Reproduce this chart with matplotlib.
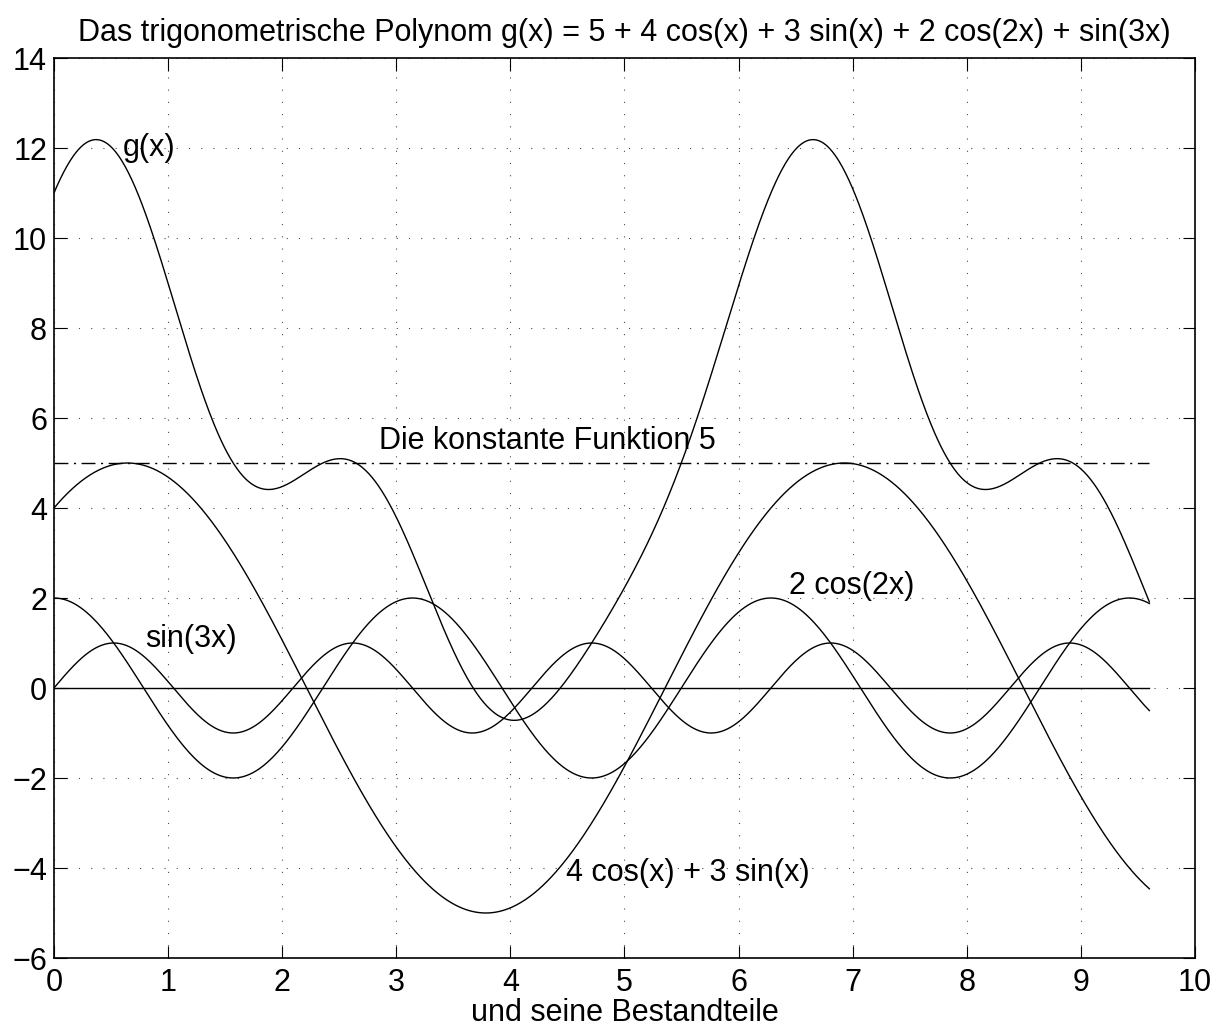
import numpy as np
import matplotlib.pyplot as plt

plt.rcParams['font.family'] = ['Liberation Sans', 'DejaVu Sans']

# coefficients of g(x) = c0 + a1 cos(x) + b1 sin(x) + a2 cos(2x) + b3 sin(3x)
c0 = 5
a1 = 4
b1 = 3
a2 = 2
b3 = 1
x_end = 9.6

x = np.linspace(0, x_end, 1000)
part1 = a1 * np.cos(x) + b1 * np.sin(x)
part2 = a2 * np.cos(2 * x)
part3 = b3 * np.sin(3 * x)
g = c0 + part1 + part2 + part3

fig = plt.figure(figsize=(12.21, 10.34), dpi=100)
ax = fig.add_axes([0.0442, 0.0735, 0.9345, 0.8704])

lw = 1.0
ax.plot(x, g, color='black', lw=lw)
ax.plot(x, part1, color='black', lw=lw)
ax.plot(x, part2, color='black', lw=lw)
ax.plot(x, part3, color='black', lw=lw)
ax.plot([0, x_end], [c0, c0], color='black', lw=lw, dashes=[10, 4, 1.5, 4])
ax.plot([0, x_end], [0, 0], color='black', lw=lw)

ax.set_xlim(0, 10)
ax.set_ylim(-6, 14)
ax.set_xticks(range(0, 11))
ax.set_yticks(range(-6, 15, 2))
ax.set_yticklabels([str(v).replace('-', '\u2212') for v in range(-6, 15, 2)])
ax.grid(True, color='black', linestyle=(0, (1, 10)), lw=0.8, alpha=0.7)
ax.tick_params(direction='in', length=9, width=0.8, top=True, right=True,
               labelsize=22)
ax.tick_params(axis='x', pad=7)
ax.tick_params(axis='y', pad=5)
for s in ax.spines.values():
    s.set_linewidth(1.2)

fs = 22
ax.text(0.6, 12, 'g(x)', fontsize=fs, va='center')
ax.text(2.85, 5.5, 'Die konstante Funktion 5', fontsize=fs, va='center')
ax.text(6.44, 2.27, '2 cos(2x)', fontsize=fs, va='center')
ax.text(0.8, 1.1, 'sin(3x)', fontsize=fs, va='center')
ax.text(4.49, -4.1, '4 cos(x) + 3 sin(x)', fontsize=fs, va='center')

ax.set_title('Das trigonometrische Polynom g(x) = 5 + 4 cos(x) + 3 sin(x) + 2 cos(2x) + sin(3x)',
             fontsize=fs, pad=12)
ax.set_xlabel('und seine Bestandteile', fontsize=fs, labelpad=0)

fig.savefig('out.png', dpi=100)
